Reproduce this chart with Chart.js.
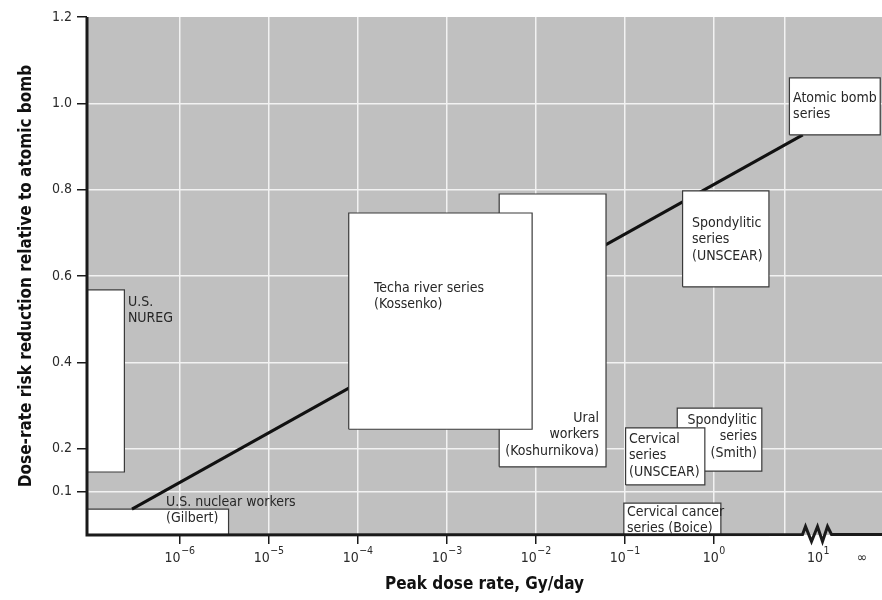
<!DOCTYPE html>
<html>
<head>
<meta charset="utf-8">
<script src="https://cdn.jsdelivr.net/npm/chart.js@4.4.0/dist/chart.umd.min.js"></script>
<style>
  html, body { margin: 0; padding: 0; background: #fff; }
  #wrap { width: 882px; height: 600px; }
</style>
</head>
<body>
<div id="wrap"><canvas id="doseChart" width="882" height="600"></canvas></div>
<script>
// x values are log10 of the peak dose rate (Gy/day); the axis is broken after 10^0
const boxNames = ['U.S. nuclear workers (Gilbert)', 'U.S. NUREG', 'Ural workers (Koshurnikova)',
  'Techa river series (Kossenko)', 'Spondylitic series (UNSCEAR)', 'Atomic bomb series',
  'Spondylitic series (Smith)', 'Cervical series (UNSCEAR)', 'Cervical cancer series (Boice)'];
const boxLogDoseLow  = [-7.04, -7.04, -2.41, -4.10, -0.35, 0.85, -0.41, -0.99, -1.01];
const boxLogDoseHigh = [-5.45, -6.62, -1.21, -2.04, 0.62, 1.87, 0.54, -0.10, 0.08];
const boxRiskLow  = [0, 0.146, 0.158, 0.245, 0.575, 0.927, 0.148, 0.116, 0];
const boxRiskHigh = [0.060, 0.568, 0.790, 0.746, 0.797, 1.059, 0.294, 0.248, 0.074];

const trendLogDose = [-6.535, 1.0];
const trendRisk = [0.060, 0.927];

const noteLines = [['U.S. nuclear workers', '(Gilbert)'], ['U.S.', 'NUREG'], ['Ural', 'workers', '(Koshurnikova)'],
  ['Techa river series', '(Kossenko)'], ['Spondylitic', 'series', '(UNSCEAR)'], ['Atomic bomb', 'series'],
  ['Spondylitic', 'series', '(Smith)'], ['Cervical', 'series', '(UNSCEAR)'], ['Cervical cancer', 'series (Boice)']];
const noteX = [-6.153, -6.58, -1.289, -3.816, -0.244, 0.891, 0.486, -0.952, -0.975];
const noteY = [0.0764, 0.540, 0.271, 0.572, 0.7228, 1.0124, 0.2664, 0.2224, 0.0533];
const noteAlign = ['left', 'left', 'right', 'left', 'left', 'left', 'right', 'left', 'left'];

const yTicks = [0.1, 0.2, 0.4, 0.6, 0.8, 1.0, 1.2];
const xDecades = [-6, -5, -4, -3, -2, -1, 0];
const xTickLabels = ['10^−6', '10^−5', '10^−4', '10^−3', '10^−2', '10^−1', '10^0'];
const xExtraGrid = 0.8;       // last grid line before the break
const xTenPos = 1.16;         // 10^1 sits after the axis break
const xInfPos = 1.665;

const FONT = '"DejaVu Sans Condensed", "Liberation Sans", sans-serif';

const datasets = boxNames.map((name, i) => {
  const x0 = boxLogDoseLow[i], x1 = boxLogDoseHigh[i];
  const y0 = boxRiskLow[i], y1 = boxRiskHigh[i];
  return {
    label: name,
    data: [{x: x0, y: y0}, {x: x1, y: y0}, {x: x1, y: y1}, {x: x0, y: y1}, {x: x0, y: y0}],
    showLine: true,
    fill: 'shape',
    backgroundColor: '#ffffff',
    borderColor: '#3a3a3a',
    borderWidth: 1.2,
    pointRadius: 0,
    tension: 0
  };
});
// trend line sits above the two left boxes and under the rest
datasets.splice(2, 0, {
  label: 'trend',
  data: trendLogDose.map((v, i) => ({x: v, y: trendRisk[i]})),
  showLine: true,
  fill: false,
  borderColor: '#111',
  borderWidth: 3,
  pointRadius: 0
});
datasets.forEach((d, i) => { d.order = datasets.length - i; });

const bgPlugin = {
  id: 'grayBg',
  beforeDraw(chart) {
    const {ctx, chartArea: a} = chart;
    ctx.save();
    ctx.fillStyle = '#c0c0c0';
    ctx.fillRect(a.left, a.top, a.right - a.left, a.bottom - a.top);
    ctx.restore();
  }
};

const overlayPlugin = {
  id: 'overlay',
  afterDatasetsDraw(chart) {
    const {ctx, chartArea: a, scales: {x, y}} = chart;
    ctx.save();

    // box labels
    ctx.font = '14px ' + FONT;
    ctx.fillStyle = '#262626';
    ctx.textBaseline = 'middle';
    noteLines.forEach((lines, i) => {
      ctx.textAlign = noteAlign[i];
      const px = x.getPixelForValue(noteX[i]);
      const py = y.getPixelForValue(noteY[i]);
      lines.forEach((t, j) => ctx.fillText(t, px, py + j * 16.5));
    });

    // axis lines
    ctx.strokeStyle = '#1a1a1a';
    ctx.lineWidth = 3;
    ctx.lineJoin = 'miter';
    ctx.beginPath();
    ctx.moveTo(a.left, a.top);
    ctx.lineTo(a.left, a.bottom);
    const c = x.getPixelForValue(xTenPos);
    const b = a.bottom - 0.5;
    ctx.lineTo(c - 14.5, b);
    ctx.lineTo(c - 11.5, b - 8);
    ctx.lineTo(c - 5.5, b + 7);
    ctx.lineTo(c + 0.5, b - 8);
    ctx.lineTo(c + 5.5, b + 7);
    ctx.lineTo(c + 10.5, b - 8);
    ctx.lineTo(c + 14.5, b);
    ctx.lineTo(a.right, b);
    ctx.stroke();

    // x tick labels with superscript exponents
    ctx.fillStyle = '#2a2a2a';
    ctx.textBaseline = 'alphabetic';
    const drawPow = (txt, px) => {
      const [base, exp] = txt.split('^');
      ctx.font = '14px ' + FONT;
      const wb = ctx.measureText(base).width;
      ctx.font = '10.5px ' + FONT;
      const we = ctx.measureText(exp).width;
      const start = px - (wb + we) / 2;
      ctx.textAlign = 'left';
      ctx.font = '14px ' + FONT;
      ctx.fillText(base, start, a.bottom + 27);
      ctx.font = '10.5px ' + FONT;
      ctx.fillText(exp, start + wb + 0.5, a.bottom + 19);
    };
    xDecades.forEach((v, i) => drawPow(xTickLabels[i], x.getPixelForValue(v)));
    drawPow('10^1', c + 1);
    ctx.font = '14px ' + FONT;
    ctx.textAlign = 'center';
    ctx.fillText('∞', x.getPixelForValue(xInfPos), a.bottom + 27);
    ctx.restore();
  }
};

new Chart(document.getElementById('doseChart'), {
  type: 'scatter',
  data: { datasets: datasets },
  options: {
    responsive: false,
    animation: false,
    events: [],
    layout: { padding: { top: 17, right: 0, left: 0, bottom: 0 } },
    plugins: { legend: { display: false }, tooltip: { enabled: false } },
    scales: {
      x: {
        type: 'linear',
        min: -7.04,
        max: 1.89,
        afterBuildTicks: scale => {
          scale.ticks = xDecades.concat([xExtraGrid]).map(v => ({ value: v }));
        },
        afterFit: scale => { scale.height = 65; },
        ticks: { display: false },
        border: { display: false },
        grid: {
          color: '#f2f2f2',
          lineWidth: 1.5,
          tickLength: 9,
          tickWidth: 1.5,
          tickColor: ctx => (xDecades.includes(ctx.tick.value) ? '#1a1a1a' : 'rgba(0,0,0,0)')
        },
        title: {
          display: true,
          text: 'Peak dose rate, Gy/day',
          color: '#111',
          font: { family: FONT, size: 17, weight: 'bold' },
          padding: { top: 4, bottom: 5 }
        }
      },
      y: {
        type: 'linear',
        min: 0,
        max: 1.2,
        afterBuildTicks: scale => {
          scale.ticks = yTicks.map(v => ({ value: v }));
        },
        afterFit: scale => { scale.width = 87; },
        ticks: {
          color: '#2a2a2a',
          font: { family: FONT, size: 14 },
          padding: 5,
          callback: v => Number(v).toFixed(1)
        },
        border: { display: false },
        grid: {
          color: ctx => (ctx.tick && ctx.tick.value === 1.2 ? 'rgba(0,0,0,0)' : '#f2f2f2'),
          lineWidth: 1.5,
          tickLength: 10,
          tickWidth: 1.5,
          tickColor: '#1a1a1a'
        },
        title: {
          display: true,
          text: 'Dose-rate risk reduction relative to atomic bomb',
          color: '#111',
          font: { family: FONT, size: 17, weight: 'bold' },
          padding: { top: 16, bottom: 4 }
        }
      }
    }
  },
  plugins: [bgPlugin, overlayPlugin]
});
</script>
</body>
</html>
